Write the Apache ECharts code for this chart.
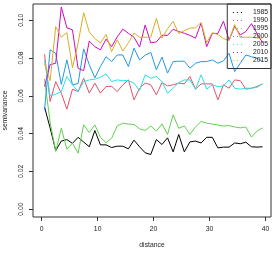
<!DOCTYPE html>
<html><head><meta charset="utf-8">
<script src="https://cdn.jsdelivr.net/npm/echarts@6/dist/echarts.min.js"></script>
<style>html,body{margin:0;padding:0;background:#fff}#c{width:274px;height:257px}</style>
</head><body><div id="c"></div>
<script>
var distances = [0.5,1.5,2.5,3.5,4.5,5.5,6.5,7.5,8.5,9.5,10.5,11.5,12.5,13.5,14.5,15.5,16.5,17.5,18.5,19.5,20.5,21.5,22.5,23.5,24.5,25.5,26.5,27.5,28.5,29.5,30.5,31.5,32.5,33.5,34.5,35.5,36.5,37.5,38.5,39.5];
var years = ["1985","1990","1995","2000","2005","2010","2015"];
var colors = ["#000000","#DF536B","#61D04F","#2297E6","#28E2E5","#CD0BBC","#D9AE22"];
var s1985 = [0.054,0.043,0.031,0.036,0.0368,0.0348,0.038,0.0355,0.033,0.0416,0.034,0.034,0.0326,0.0333,0.0333,0.0319,0.0365,0.033,0.0298,0.0289,0.0368,0.0342,0.0377,0.0303,0.0395,0.0303,0.0356,0.036,0.035,0.038,0.038,0.0324,0.0328,0.0328,0.035,0.0346,0.0354,0.033,0.0328,0.033];
var s1990 = [0.082,0.057,0.0675,0.0614,0.0529,0.0635,0.0622,0.0693,0.0614,0.0667,0.0614,0.0649,0.065,0.0622,0.0658,0.0684,0.0578,0.064,0.0667,0.0658,0.0605,0.067,0.0652,0.0658,0.0667,0.0663,0.0702,0.0635,0.0663,0.0663,0.0663,0.0578,0.0658,0.064,0.0684,0.068,0.0635,0.064,0.0649,0.0663];
var s1995 = [0.069,0.046,0.0305,0.0428,0.0317,0.0349,0.0296,0.0446,0.0405,0.0446,0.038,0.0352,0.0375,0.044,0.0455,0.045,0.0448,0.0425,0.0416,0.044,0.0413,0.0451,0.0395,0.0499,0.0428,0.044,0.0395,0.0435,0.0464,0.0455,0.045,0.0445,0.044,0.0442,0.0435,0.043,0.0435,0.0381,0.0413,0.043];
var s2000 = [0.0525,0.0843,0.0825,0.066,0.079,0.0658,0.0665,0.0848,0.0765,0.0695,0.0755,0.0807,0.0781,0.0816,0.0816,0.0755,0.0852,0.079,0.0815,0.083,0.0737,0.0805,0.072,0.0781,0.0783,0.0783,0.0746,0.0772,0.0781,0.0781,0.079,0.0772,0.0785,0.0825,0.0728,0.0772,0.0816,0.0807,0.0799,0.0781];
var s2005 = [0.079,0.06,0.0608,0.0622,0.0702,0.0658,0.0622,0.0675,0.0684,0.0688,0.0698,0.0716,0.0675,0.0684,0.068,0.068,0.0667,0.0628,0.0711,0.0693,0.0702,0.0675,0.0614,0.064,0.067,0.0684,0.0684,0.0635,0.0711,0.0635,0.0658,0.0649,0.0652,0.0684,0.064,0.0635,0.064,0.064,0.0645,0.0663];
var s2010 = [0.0649,0.0765,0.0772,0.107,0.096,0.0949,0.0745,0.0733,0.089,0.086,0.0843,0.09,0.086,0.0912,0.0953,0.0931,0.091,0.0858,0.0975,0.088,0.0885,0.092,0.092,0.0952,0.094,0.0931,0.092,0.0905,0.0985,0.086,0.093,0.093,0.0995,0.0895,0.0968,0.0922,0.094,0.0982,0.093,0.088];
var s2015 = [0.077,0.068,0.0966,0.091,0.0934,0.0748,0.0878,0.104,0.0938,0.0903,0.088,0.0925,0.0834,0.0897,0.0837,0.0881,0.0932,0.091,0.091,0.091,0.101,0.0905,0.0955,0.0994,0.093,0.0945,0.0958,0.096,0.0988,0.0881,0.0934,0.0924,0.0903,0.0892,0.0977,0.091,0.091,0.091,0.0906,0.0906];
var xTicks = [0,10,20,30,40];
var yTicks = [0,0.02,0.04,0.06,0.08,0.10];

var allSeries = [s1985,s1990,s1995,s2000,s2005,s2010,s2015];
var FONT = '"Liberation Sans", Arial, sans-serif';
var chart = echarts.init(document.getElementById('c'), null, {renderer:'canvas'});
var series = allSeries.map(function(vals, k){
  return {
    name: years[k], type:'line', symbol:'none', animation:false,
    lineStyle:{color:colors[k], width:1}, itemStyle:{color:colors[k]},
    data: vals.map(function(v,i){return [distances[i], v];})
  };
});
chart.setOption({
  animation:false,
  textStyle:{fontFamily:FONT},
  grid:{left:33, right:3, top:4, bottom:40, show:true, borderColor:'#333', borderWidth:1,
        backgroundColor:'transparent', containLabel:false, outerBoundsMode:'none'},
  legend:{
    data: years.map(function(y,k){
      return {name:y, lineStyle:{color:colors[k], type:[1,3], width:1.2},
              itemStyle:{color:'transparent', borderWidth:0, opacity:0}};
    }),
    orient:'vertical', right:3, top:4,
    padding:[4.5,3,4,5], itemWidth:12, itemHeight:8.2, itemGap:0,
    borderColor:'#333', borderWidth:1, backgroundColor:'transparent',
    textStyle:{fontSize:6.8, color:'#222', fontFamily:FONT, padding:[0,0,0,3], lineHeight:8}
  },
  xAxis:{
    type:'value', min:-1.56, max:41.0, position:'bottom',
    name:'distance', nameLocation:'middle', nameGap:25,
    nameTextStyle:{fontSize:6.8, color:'#222', fontFamily:FONT},
    axisLine:{show:false, onZero:false}, splitLine:{show:false},
    axisTick:{show:true, length:4, lineStyle:{color:'#333'}, customValues:xTicks},
    axisLabel:{fontSize:6.8, color:'#222', margin:9, fontFamily:FONT, customValues:xTicks}
  },
  yAxis:{
    type:'value', min:-0.0042, max:0.1086, position:'left',
    name:'semivariance', nameLocation:'middle', nameGap:24, nameRotate:90,
    nameTextStyle:{fontSize:6.8, color:'#222', fontFamily:FONT},
    axisLine:{show:false, onZero:false}, splitLine:{show:false},
    axisTick:{show:true, length:4, lineStyle:{color:'#333'}, customValues:yTicks},
    axisLabel:{fontSize:6.8, color:'#222', margin:8, rotate:90, fontFamily:FONT, customValues:yTicks,
      formatter:function(v){return v.toFixed(2);}}
  },
  series: series
});
</script></body></html>
